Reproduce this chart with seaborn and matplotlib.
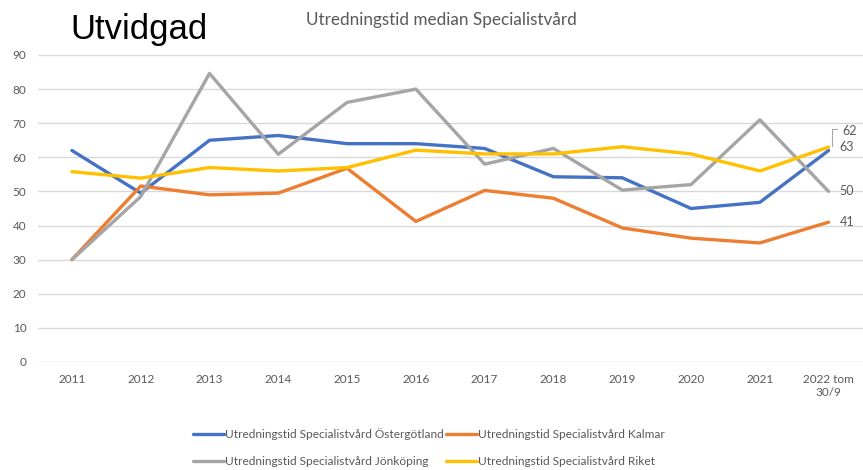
import pandas as pd
import matplotlib.pyplot as plt
import seaborn as sns

# Data
years = ['2011', '2012', '2013', '2014', '2015', '2016', '2017', '2018',
         '2019', '2020', '2021', '2022 tom\n30/9']
ostergotland = [62, 49.5, 65, 66.4, 64, 64, 62.6, 54.3, 54, 45, 46.8, 62]
kalmar = [30, 51.6, 49, 49.5, 56.8, 41.2, 50.3, 48, 39.3, 36.3, 34.9, 41]
jonkoping = [30, 48.5, 84.6, 60.9, 76.1, 80, 58, 62.6, 50.4, 52, 71, 50]
riket = [55.8, 53.9, 57, 56, 57, 62.1, 61, 61, 63.1, 61, 56, 63]

series_names = ['Utredningstid Specialistvård Östergötland',
                'Utredningstid Specialistvård Kalmar',
                'Utredningstid Specialistvård Jönköping',
                'Utredningstid Specialistvård Riket']
end_labels = ['62', '41', '50', '63']
colors = ['#4472C4', '#ED7D31', '#A5A5A5', '#FFC000']

rows = []
for name, vals in zip(series_names, [ostergotland, kalmar, jonkoping, riket]):
    for i, v in enumerate(vals):
        rows.append({'Serie': name, 'x': i, 'Dagar': v})
df = pd.DataFrame(rows)

sns.set_style('white')
plt.rcParams['font.family'] = ['Lato', 'DejaVu Sans']

fig = plt.figure(figsize=(8.63, 4.70), dpi=100)
ax = fig.add_axes([0.0435, 0.2298, 0.9565, 0.6532])

sns.lineplot(data=df, x='x', y='Dagar', hue='Serie', hue_order=series_names,
             palette=colors, linewidth=2.4, legend=False, ax=ax, sort=False)

ax.set_xlim(-0.5, 11.5)
ax.set_ylim(0, 90)
ax.set_yticks(range(0, 91, 10))
ax.set_xticks(range(len(years)))
ax.set_xticklabels(years)
ax.set_xlabel('')
ax.set_ylabel('')
ax.grid(axis='y', color='#d9d9d9', linewidth=1)
ax.set_axisbelow(True)
for s in ax.spines.values():
    s.set_visible(False)
ax.tick_params(axis='both', length=0, colors='#595959', labelsize=8.5)
ax.tick_params(axis='x', pad=9)
ax.tick_params(axis='y', pad=8)

# End-point data labels
last = len(years) - 1
for name, vals, lab in zip(series_names, [ostergotland, kalmar, jonkoping, riket], end_labels):
    if lab == '62':
        ax.annotate(lab, xy=(last, vals[-1]), xytext=(10, 14), textcoords='offset points',
                    va='center', ha='left', fontsize=9, color='#595959')
        ax.plot([last + 0.05, last + 0.05, last + 0.12], [vals[-1] + 1.2, 68.2, 68.2],
                color='#a6a6a6', linewidth=0.8, clip_on=False)
    else:
        ax.annotate(lab, xy=(last, vals[-1]), xytext=(8, 0), textcoords='offset points',
                    va='center', ha='left', fontsize=9, color='#595959')

# Legend, two rows
handles = [plt.Line2D([], [], color=c, linewidth=2.4) for c in colors]
order = [0, 2, 1, 3]
fig.legend([handles[i] for i in order], [series_names[i] for i in order],
           ncol=2, loc='center', bbox_to_anchor=(0.497, 0.047), frameon=False,
           fontsize=8.6, labelcolor='#595959', handlelength=2.6, handletextpad=0.1,
           columnspacing=0.2, labelspacing=1.35)

fig.text(0.512, 0.958, 'Utredningstid median Specialistvård', ha='center', va='center',
         fontsize=12.3, color='#595959')
fig.text(0.081, 0.937, 'Utvidgad', ha='left', va='center', fontsize=25,
         color='black', family='Liberation Sans')

fig.savefig('out.png', dpi=100)
